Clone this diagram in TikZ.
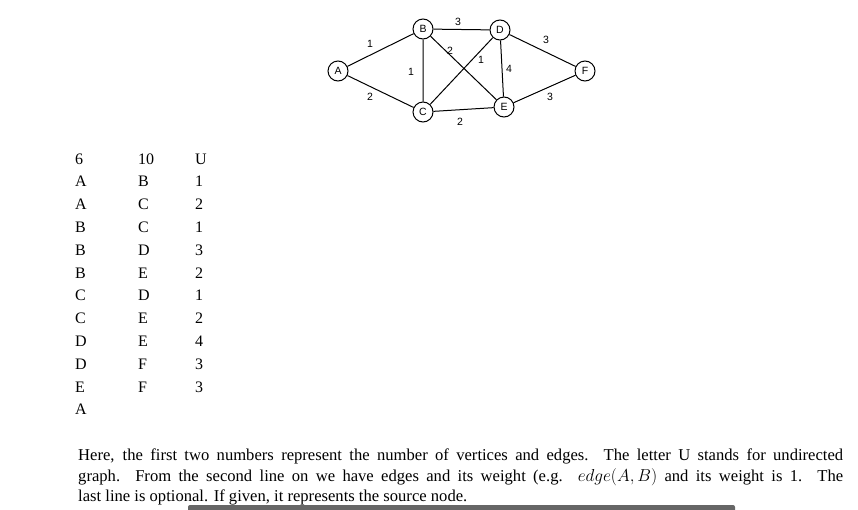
\documentclass[tikz,border=0pt]{standalone}
\usepackage{fontspec}
\setmainfont{Liberation Serif}
\setsansfont{Liberation Sans}
\begin{document}
\begin{tikzpicture}[x=1pt,y=-1pt,
  vtx/.style={circle,draw,line width=1pt,minimum size=20pt,inner sep=0pt,font=\sffamily\fontsize{10.5}{10.5}\selectfont},
  wt/.style={font=\sffamily\fontsize{10.5}{10.5}\selectfont,inner sep=0pt},
  cell/.style={font=\fontsize{16}{16}\selectfont,inner sep=0pt,anchor=base west},
  para/.style={font=\fontsize{16.6}{20.5}\selectfont,inner sep=0pt,anchor=base west}]
\useasboundingbox (0,0) rectangle (858,509);
\node[vtx] (A) at (338,71) {A};
\node[vtx] (B) at (423,29) {B};
\node[vtx] (C) at (423,112) {C};
\node[vtx] (D) at (500,30) {D};
\node[vtx] (E) at (504,107) {E};
\node[vtx] (F) at (585,71) {F};
\draw[line width=1pt] (A)--(B) (A)--(C) (B)--(C) (B)--(D) (B)--(E) (C)--(D) (D)--(E) (D)--(F) (E)--(F) (C)--(E);
\node[wt] (w1) at (370,44) {1};
\node[wt] (w2) at (370,97) {2};
\node[wt] (w3) at (411,72) {1};
\node[wt] (w4) at (458,22) {3};
\node[wt] (w5) at (450,51) {2};
\node[wt] (w6) at (481,60) {1};
\node[wt] (w7) at (509,69) {4};
\node[wt] (w8) at (546,40) {3};
\node[wt] (w9) at (550,97) {3};
\node[wt] (w10) at (460,122) {2};
\foreach \a/\b/\c [count=\i from 0] in {6/10/U,A/B/1,A/C/2,B/C/1,B/D/3,B/E/2,C/D/1,C/E/2,D/E/4,D/F/3,E/F/3,A//}{
  \node[cell] (c1\i) at (75,{164+22.8*\i}) {\a};
  \node[cell] (c2\i) at (138,{164+22.8*\i}) {\b};
  \node[cell] (c3\i) at (195,{164+22.8*\i}) {\c};
}
\node[para] (p1) at (78,460) {\makebox[765pt][s]{Here, the first two numbers represent the number of vertices and edges. The letter U stands for undirected}};
\node[para] (p2) at (78,481) {\makebox[765pt][s]{graph. From the second line on we have edges and its weight (e.g. $edge(A,B)$ and its weight is 1. The}};
\node[para] (p3) at (78,501) {last line is optional. If given, it represents the source node.};
\fill[gray!80!black,rounded corners=2pt] (188,505) rectangle (735,512);
\end{tikzpicture}
\end{document}
